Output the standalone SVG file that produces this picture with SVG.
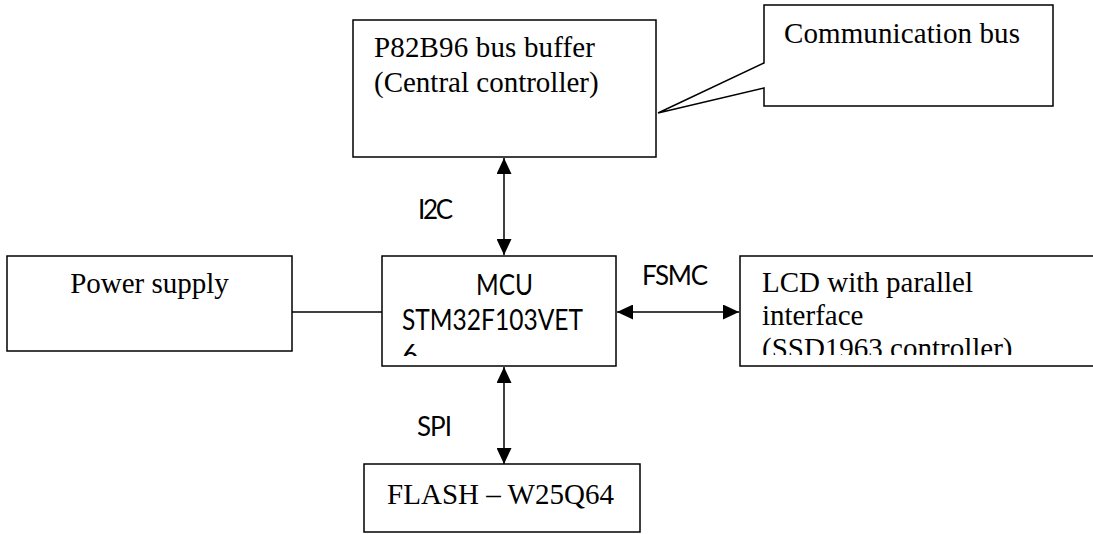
<svg xmlns="http://www.w3.org/2000/svg" width="1093" height="534" viewBox="0 0 1093 534">
<style>
.box{fill:#fff;stroke:#000;stroke-width:1.5}
.serif{font-family:"Liberation Serif","Times New Roman",serif;font-size:29px;fill:#000}
.sans{font-family:Lato,"Liberation Sans",sans-serif;fill:#000}
.conn{stroke:#000;stroke-width:1.5;fill:none}
</style>
<defs>
<marker id="ah" markerUnits="userSpaceOnUse" markerWidth="16" markerHeight="15" refX="16" refY="7.5" orient="auto-start-reverse">
<path d="M0,0 L16,7.5 L0,15 z" fill="#000"/>
</marker>
<clipPath id="clipMcu"><rect x="382" y="256" width="234" height="100"/></clipPath>
<clipPath id="clipLcd"><rect x="740" y="256" width="353" height="99"/></clipPath>
</defs>
<rect width="1093" height="534" fill="#fff"/>
<g id="connectors">
<line class="conn" x1="504" y1="158" x2="504" y2="255" marker-start="url(#ah)" marker-end="url(#ah)"/>
<line class="conn" x1="504" y1="367" x2="504" y2="464" marker-start="url(#ah)" marker-end="url(#ah)"/>
<line class="conn" x1="617" y1="312" x2="739" y2="312" marker-start="url(#ah)" marker-end="url(#ah)"/>
<line class="conn" x1="292" y1="312" x2="382" y2="312"/>
<text class="sans" x="418" y="219" font-size="26" textLength="35">I2C</text>
<text class="sans" x="417" y="436" font-size="26" textLength="35">SPI</text>
<text class="sans" x="642" y="285" font-size="26" textLength="66">FSMC</text>
</g>
<g id="buffer">
<rect class="box" x="353" y="20" width="303" height="137"/>
<text class="serif" x="374" y="57" textLength="221">P82B96 bus buffer</text>
<text class="serif" x="374" y="92">(Central controller)</text>
</g>
<g id="callout">
<path class="box" d="M764,5 L1053,5 L1053,106 L764,106 L764,88 L658,113 L764,63 Z"/>
<text class="serif" x="784" y="43" textLength="236">Communication bus</text>
</g>
<g id="power">
<rect class="box" x="7" y="256" width="285" height="95"/>
<text class="serif" x="149.5" y="293" text-anchor="middle">Power supply</text>
</g>
<g id="mcu">
<rect class="box" x="382" y="256" width="234" height="110"/>
<g clip-path="url(#clipMcu)">
<text class="sans" x="504.5" y="295" font-size="28" text-anchor="middle" textLength="57" lengthAdjust="spacingAndGlyphs">MCU</text>
<text class="sans" x="402" y="330" font-size="28" textLength="181" lengthAdjust="spacingAndGlyphs">STM32F103VET</text>
<text class="sans" x="402" y="365" font-size="28">6</text>
</g>
</g>
<g id="lcd">
<path class="box" d="M1095,256 L740,256 L740,366 L1095,366"/>
<g clip-path="url(#clipLcd)">
<text class="serif" x="762" y="292">LCD with parallel</text>
<text class="serif" x="762" y="325">interface</text>
<text class="serif" x="762" y="358">(SSD1963 controller)</text>
</g>
</g>
<g id="flash">
<rect class="box" x="364" y="464" width="276" height="68"/>
<text class="serif" x="387" y="504" textLength="227">FLASH – W25Q64</text>
</g>
</svg>
